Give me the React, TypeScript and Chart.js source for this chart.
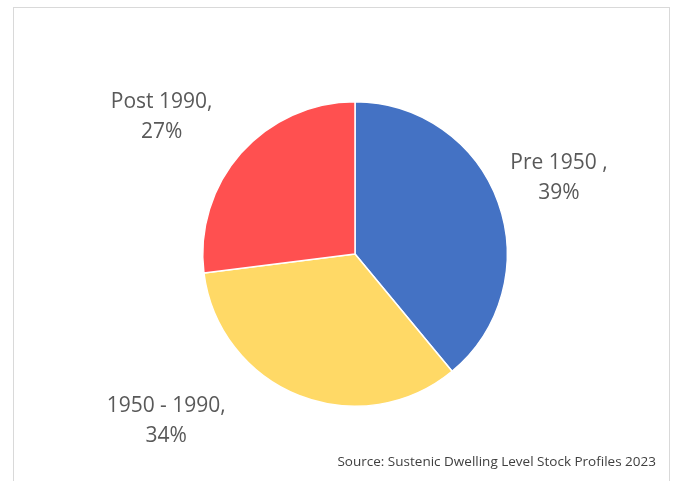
import React, { useEffect, useRef } from "react";
import { Chart, registerables } from "chart.js";

Chart.register(...registerables);

const categories = ["Pre 1950 ", "1950 - 1990", "Post 1990"];
const shares = [39, 34, 27];
const colors = ["#4472C4", "#FFD966", "#FF5050"];
const sourceText = "Source: Sustenic Dwelling Level Stock Profiles 2023";

// label anchor offsets in units of the pie radius
const labelOffsets = [
  [1.34, -0.5],
  [-1.24, 1.1],
  [-1.27, -0.9],
];

const labelPlugin = {
  id: "outsideLabels",
  afterDatasetsDraw(chart: any) {
    const { ctx } = chart;
    const meta = chart.getDatasetMeta(0);
    ctx.save();
    ctx.font = '21px "Open Sans", "Noto Sans", sans-serif';
    ctx.fillStyle = "#595959";
    ctx.textAlign = "center";
    ctx.textBaseline = "middle";
    meta.data.forEach((arc: any, i: number) => {
      const r = arc.outerRadius;
      const x = arc.x + labelOffsets[i][0] * r;
      const y = arc.y + labelOffsets[i][1] * r;
      const name = chart.data.labels[i];
      const v = chart.data.datasets[0].data[i];
      ctx.fillText(name + ",", x, y - 15);
      ctx.fillText(v + "%", x, y + 15);
    });
    ctx.font = '13.5px "Open Sans", "Noto Sans", sans-serif';
    ctx.fillStyle = "#404040";
    ctx.textAlign = "right";
    ctx.fillText(sourceText, 656, 462);
    ctx.restore();
  },
};

export default function App() {
  const ref = useRef<HTMLCanvasElement | null>(null);
  useEffect(() => {
    document.body.style.margin = "0";
    const chart = new Chart(ref.current!, {
      type: "pie",
      data: {
        labels: categories,
        datasets: [
          {
            data: shares,
            backgroundColor: colors,
            borderColor: "#ffffff",
            borderWidth: 1.5,
          },
        ],
      },
      options: {
        animation: false,
        responsive: false,
        maintainAspectRatio: false,
        layout: { padding: { left: 202, right: 166, top: 101, bottom: 74 } },
        plugins: { legend: { display: false }, tooltip: { enabled: false } },
      },
      plugins: [labelPlugin],
    });
    return () => chart.destroy();
  }, []);
  return (
    <div style={{ position: "relative", width: 674, height: 481, overflow: "hidden", background: "#fff" }}>
      <div
        style={{
          position: "absolute",
          left: 13,
          top: 7,
          width: 657,
          height: 500,
          border: "1px solid #d9d9d9",
          boxSizing: "border-box",
        }}
      />
      <canvas ref={ref} width={674} height={481} style={{ position: "absolute", left: 0, top: 0 }} />
    </div>
  );
}
